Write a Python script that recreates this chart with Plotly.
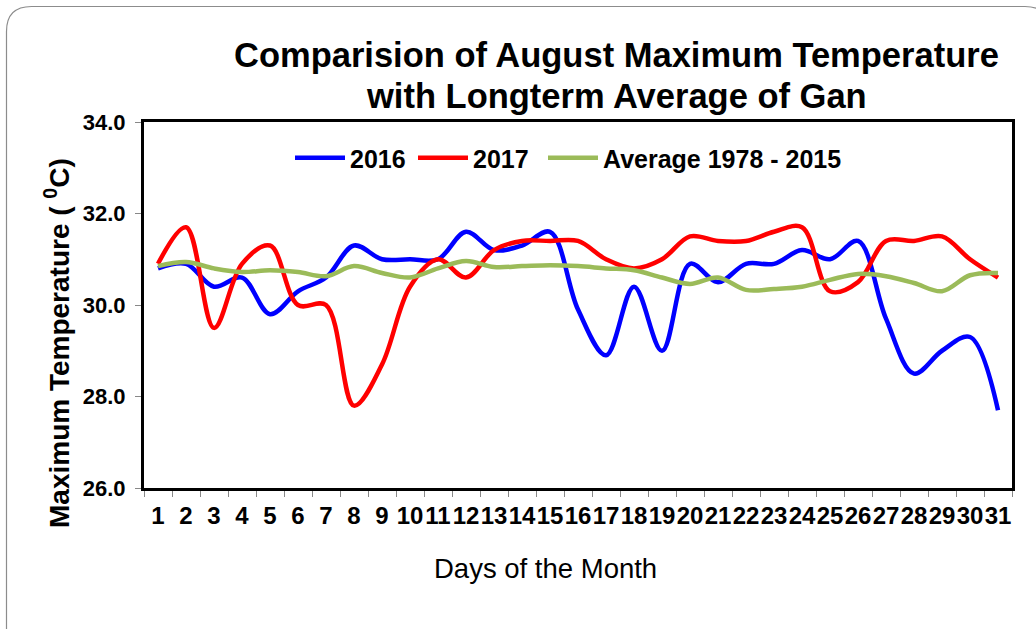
import plotly.graph_objects as go

days = list(range(1, 32))
day_labels = [str(d) for d in days]

t2016 = [30.8, 30.9, 30.4, 30.6, 29.8, 30.3, 30.6, 31.3, 31.0, 31.0,
         31.0, 31.6, 31.2, 31.3, 31.6, 29.9, 28.9, 30.4, 29.0, 30.9,
         30.5, 30.9, 30.9, 31.2, 31.0, 31.4, 29.7, 28.5, 29.0, 29.3,
         27.7]
t2017 = [30.9, 31.7, 29.5, 30.9, 31.3, 30.0, 30.0, 27.8, 28.7, 30.4,
         31.0, 30.6, 31.2, 31.4, 31.4, 31.4, 31.0, 30.8, 31.0, 31.5,
         31.4, 31.4, 31.6, 31.7, 30.3, 30.5, 31.4, 31.4, 31.5, 31.0,
         30.6]
avg = [30.85, 30.94, 30.80, 30.72, 30.76, 30.72, 30.63, 30.85, 30.70, 30.60,
       30.80, 30.96, 30.83, 30.85, 30.87, 30.85, 30.80, 30.76, 30.60, 30.46,
       30.60, 30.33, 30.35, 30.40, 30.55, 30.68, 30.63, 30.48, 30.30, 30.65,
       30.70]

W, H = 1036, 629
L, R, T, B = 144, 1012, 122, 488  # plot area in pixels

def px(x):
    return (x - L) / (R - L)

def py(y):
    return (B - y) / (B - T)

FONT = "Liberation Sans, Arial, sans-serif"

fig = go.Figure()
series = [("2016", t2016, "#0000FF", "legend"), ("2017", t2017, "#FF0000", "legend2"),
          ("Average 1978 - 2015", avg, "#9BBB59", "legend3")]
for name, vals, col, lg in series:
    fig.add_trace(go.Scatter(
        x=days, y=vals, name=name, mode="lines", legend=lg,
        line=dict(color=col, width=4.5, shape="spline", smoothing=1.0),
    ))

# outer rounded border
x0, y0, x1, y1, r = px(6.5), py(6.5), px(1050), py(645), 25
rx = r / (R - L)
ry = r / (B - T)
path = (f"M {x0},{y0 - ry} Q {x0},{y0} {x0 + rx},{y0} "
        f"L {x1 - rx},{y0} Q {x1},{y0} {x1},{y0 - ry} "
        f"L {x1},{y1} L {x0},{y1} Z")
fig.add_shape(type="path", path=path, xref="paper", yref="paper",
              line=dict(color="#8c8c8c", width=1.2), layer="below")

annotations = [
    dict(text="<b>Comparision of August Maximum Temperature</b>", x=px(616), y=py(55),
         font=dict(size=34.5, color="black", family=FONT)),
    dict(text="<b>with Longterm Average of Gan</b>", x=px(616), y=py(96),
         font=dict(size=34.5, color="black", family=FONT)),
    dict(text="<b>Maximum Temperature ( <sup>0</sup>C)</b>", x=px(57), y=py(343),
         textangle=-90, font=dict(size=28, color="black", family=FONT)),
    dict(text="Days of the Month", x=px(545), y=py(568),
         font=dict(size=27.5, color="black", family=FONT)),
]
for a in annotations:
    a.update(xref="paper", yref="paper", showarrow=False,
             xanchor="center", yanchor="middle")
fig.update_layout(annotations=annotations)

def legend_at(xpix):
    return dict(orientation="h", x=px(xpix), y=py(158), xanchor="left", yanchor="middle",
                font=dict(size=25, color="black", family=FONT, weight="bold"),
                bgcolor="rgba(0,0,0,0)", itemwidth=50)

fig.update_layout(
    width=W, height=H,
    margin=dict(l=L, r=W - R, t=T, b=H - B, pad=0, autoexpand=False),
    paper_bgcolor="white", plot_bgcolor="white",
    showlegend=True,
    legend=legend_at(290),
    legend2=legend_at(413),
    legend3=legend_at(543),
    xaxis=dict(
        range=[0.5, 31.5], tickmode="array", tickvals=days, ticktext=day_labels,
        ticks="", showgrid=False, zeroline=False, tickangle=0, automargin=False,
        showline=True, linecolor="black", linewidth=3, mirror=True,
        tickfont=dict(size=24, color="black", family=FONT, weight="bold"),
        ticklabelstandoff=4,
        minor=dict(tick0=0.5, dtick=1, ticks="outside", ticklen=6,
                   tickcolor="#888888", tickwidth=1, showgrid=False),
    ),
    yaxis=dict(
        range=[26, 34], dtick=2, tick0=26, tickformat=".1f", automargin=False,
        ticks="outside", ticklen=6, tickcolor="#888888", tickwidth=1,
        showgrid=False, zeroline=False,
        showline=True, linecolor="black", linewidth=3, mirror=True,
        tickfont=dict(size=22, color="black", family=FONT, weight="bold"),
        ticklabelstandoff=5,
    ),
)

fig.write_html("out.html", config={"displayModeBar": False},
               post_script="document.body.style.margin='0';")
